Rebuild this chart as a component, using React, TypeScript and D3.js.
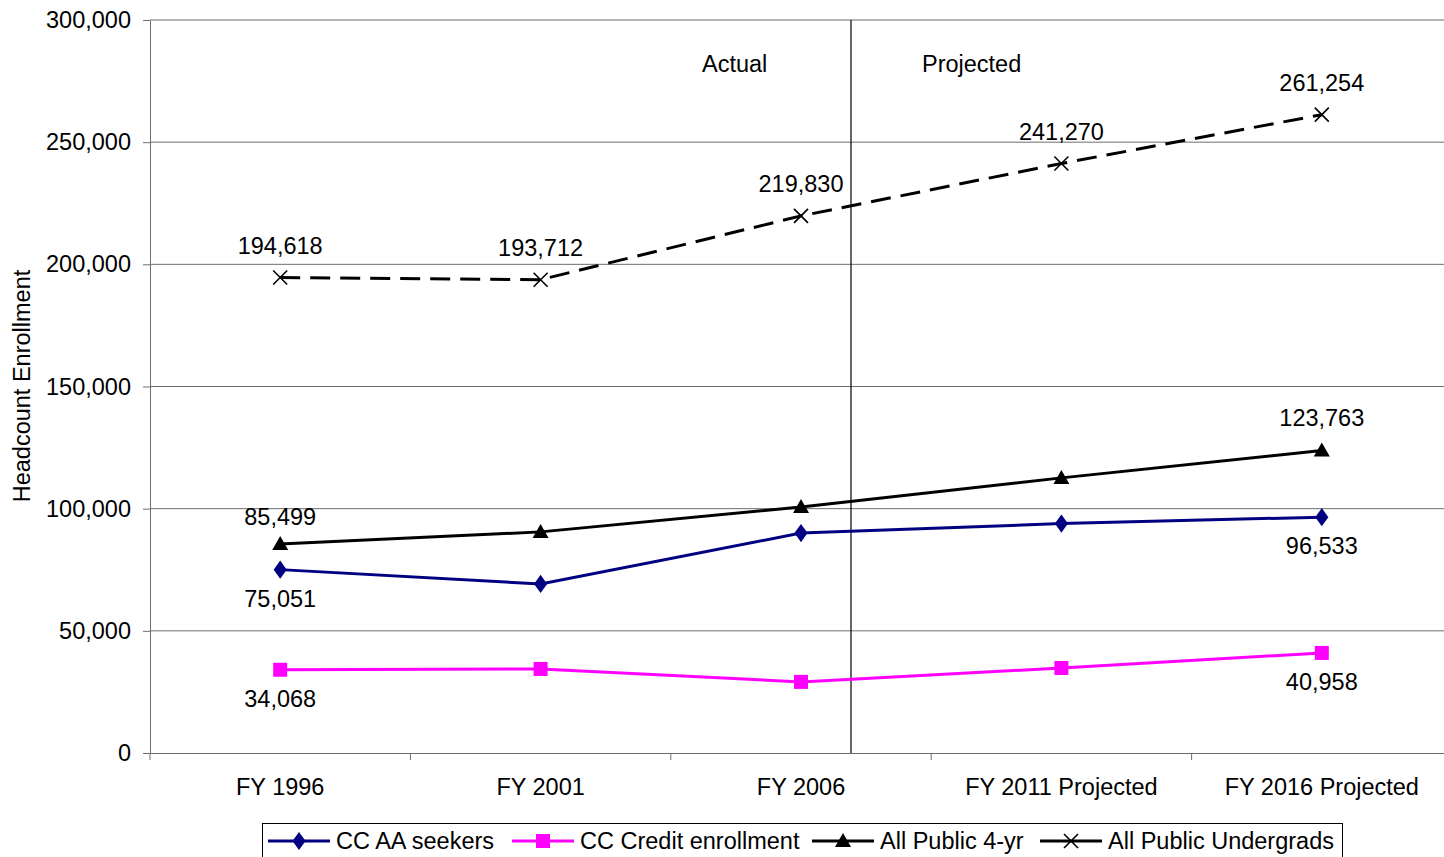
import * as d3 from "d3";
import { useRef, useEffect } from "react";

// categories on the x axis
const years = ["FY 1996", "FY 2001", "FY 2006", "FY 2011 Projected", "FY 2016 Projected"];

// series values (headcount)
const ccAASeekers = [75051, 69200, 90000, 93900, 96533];
const ccCredit = [34068, 34400, 29100, 34800, 40958];
const publicFourYr = [85499, 90500, 100700, 112600, 123763];
const publicUndergrads = [194618, 193712, 219830, 241270, 261254];

// y axis ticks
const yTicks = [0, 50000, 100000, 150000, 200000, 250000, 300000];

const FONT = "'Liberation Sans', Arial, sans-serif";
const FS = "23.5px";

export default function App() {
  const svgRef = useRef<SVGSVGElement>(null);

  useEffect(() => {
    const svg = d3.select(svgRef.current);
    svg.selectAll("*").remove();

    const W = 1444, H = 857;
    const left = 150, top = 20, bottom = 753;
    const bandW = 260.4;

    const x = d3.scaleBand<string>().domain(years).range([left, left + bandW * years.length]).padding(0);
    const cx = (c: string) => (x(c) as number) + x.bandwidth() / 2;
    const y = d3.scaleLinear().domain([0, 300000]).range([bottom, top]);

    const fmt = d3.format(",");

    // clip to window width
    svg.append("defs").append("clipPath").attr("id", "plot")
      .append("rect").attr("x", 0).attr("y", 0).attr("width", W).attr("height", H);

    const g = svg.append("g");

    // gridlines
    g.selectAll("line.grid")
      .data(yTicks.filter(d => d > 0))
      .enter()
      .append("line")
      .attr("x1", left).attr("x2", W)
      .attr("y1", d => y(d)).attr("y2", d => y(d))
      .attr("stroke", "#6e6e6e").attr("stroke-width", 1);

    // y axis
    const yAxis = d3.axisLeft(y).tickValues(yTicks).tickFormat(d => fmt(d as number)).tickSize(7).tickSizeOuter(0).tickPadding(12);
    const ya = g.append("g").attr("transform", `translate(${left},0)`).call(yAxis);
    ya.select(".domain").attr("stroke", "#6e6e6e");
    ya.selectAll(".tick line").attr("stroke", "#6e6e6e");
    ya.selectAll("text").style("font-family", FONT).style("font-size", FS).attr("fill", "#000");

    // x axis
    const xAxis = d3.axisBottom(x).tickSize(0).tickPadding(25);
    const xa = g.append("g").attr("transform", `translate(0,${bottom})`).call(xAxis);
    xa.select(".domain").attr("stroke", "#6e6e6e");
    xa.selectAll("text").style("font-family", FONT).style("font-size", FS).attr("fill", "#000");
    // category boundary ticks
    g.selectAll("line.xtick")
      .data(years)
      .enter()
      .append("line")
      .attr("x1", d => x(d) as number).attr("x2", d => x(d) as number)
      .attr("y1", bottom).attr("y2", bottom + 7)
      .attr("stroke", "#6e6e6e");

    // actual / projected divider
    const divX = (x("FY 2006") as number) + x.bandwidth() * 0.692;
    g.append("line")
      .attr("x1", divX).attr("x2", divX).attr("y1", top).attr("y2", bottom)
      .attr("stroke", "#000").attr("stroke-width", 1.2);
    g.append("text").attr("x", divX - 149).attr("y", 72)
      .style("font-family", FONT).style("font-size", FS).text("Actual");
    g.append("text").attr("x", divX + 71).attr("y", 72)
      .style("font-family", FONT).style("font-size", FS).text("Projected");

    // y axis title
    g.append("text")
      .attr("transform", `translate(30,386) rotate(-90)`)
      .attr("text-anchor", "middle")
      .style("font-family", FONT).style("font-size", FS)
      .text("Headcount Enrollment");

    const series = [
      { name: "CC AA seekers", values: ccAASeekers, color: "#000080", marker: "diamond", dash: null, labels: [[0, 29], [4, 29]] },
      { name: "CC Credit enrollment", values: ccCredit, color: "#ff00ff", marker: "square", dash: null, labels: [[0, 29], [4, 29]] },
      { name: "All Public 4-yr", values: publicFourYr, color: "#000000", marker: "triangle", dash: null, labels: [[0, -27], [4, -33]] },
      { name: "All Public Undergrads", values: publicUndergrads, color: "#000000", marker: "x", dash: "20,10", labels: [[0, -32], [1, -32], [2, -32], [3, -32], [4, -32]] },
    ];

    const line = d3.line<number>().x((_, i) => cx(years[i])).y(d => y(d));

    const drawMarker = (sel: any, kind: string, color: string, px: number, py: number) => {
      if (kind === "diamond") {
        sel.append("path").attr("d", d3.symbol(d3.symbolDiamond, 95)()).attr("transform", `translate(${px},${py}) scale(1.25,1)`).attr("fill", color);
      } else if (kind === "square") {
        sel.append("rect").attr("x", px - 7).attr("y", py - 7).attr("width", 14).attr("height", 14).attr("fill", color);
      } else if (kind === "triangle") {
        sel.append("path").attr("d", `M${px},${py - 8}L${px + 8},${py + 6}L${px - 8},${py + 6}Z`).attr("fill", color);
      } else {
        sel.append("path").attr("d", `M${px - 7},${py - 7}L${px + 7},${py + 7}M${px - 7},${py + 7}L${px + 7},${py - 7}`)
          .attr("stroke", color).attr("stroke-width", 1.6).attr("fill", "none");
      }
    };

    series.forEach(s => {
      const sg = g.append("g").attr("clip-path", "url(#plot)");
      sg.append("path")
        .attr("d", line(s.values))
        .attr("fill", "none")
        .attr("stroke", s.color)
        .attr("stroke-width", 3)
        .attr("stroke-dasharray", s.dash);
      s.values.forEach((v, i) => drawMarker(sg, s.marker, s.color, cx(years[i]), y(v)));
      s.labels.forEach(([i, dy]) => {
        g.append("text")
          .attr("x", cx(years[i]))
          .attr("y", y(s.values[i]) + dy)
          .attr("dy", "0.35em")
          .attr("text-anchor", "middle")
          .style("font-family", FONT).style("font-size", FS)
          .text(fmt(s.values[i]));
      });
    });

    // legend
    const lg = g.append("g");
    lg.append("rect").attr("x", 262.5).attr("y", 823.5).attr("width", 1080).attr("height", 40)
      .attr("fill", "#fff").attr("stroke", "#000").attr("stroke-width", 1);
    const legendX = [268, 512, 812, 1040];
    series.forEach((s, i) => {
      const lx = legendX[i], ly = 841;
      lg.append("line").attr("x1", lx).attr("x2", lx + 62).attr("y1", ly).attr("y2", ly)
        .attr("stroke", s.color).attr("stroke-width", 3);
      drawMarker(lg, s.marker, s.color, lx + 31, ly);
      lg.append("text").attr("x", lx + 68).attr("y", ly).attr("dy", "0.35em")
        .style("font-family", FONT).style("font-size", FS).text(s.name);
    });
  }, []);

  return <svg ref={svgRef} width={1444} height={857} style={{ position: "absolute", left: 0, top: 0, display: "block" }} />;
}
